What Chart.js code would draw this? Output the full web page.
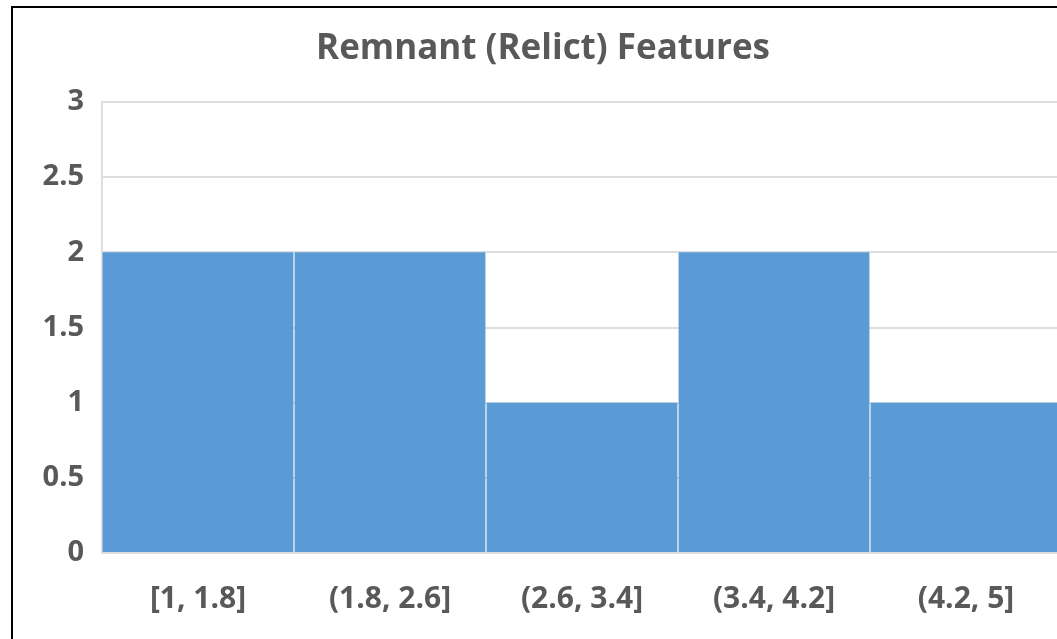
<!DOCTYPE html>
<html>
<head>
<meta charset="utf-8">
<script src="https://cdn.jsdelivr.net/npm/chart.js@4.4.0/dist/chart.umd.min.js"></script>
<style>
  html, body { margin: 0; padding: 0; background: #fff; overflow: hidden; }
  #wrap { position: relative; width: 1057px; height: 639px; overflow: hidden; }
  #chart { position: absolute; left: 0; top: 0; }
  #frame { position: absolute; left: 11px; top: 6px; width: 1100px; height: 700px;
           border: 2px solid #000; pointer-events: none; }
</style>
</head>
<body>
<div id="wrap">
  <canvas id="chart" width="1086" height="639"></canvas>
  <div id="frame"></div>
</div>
<script>
// Histogram bins and counts
const bins = ['[1, 1.8]', '(1.8, 2.6]', '(2.6, 3.4]', '(3.4, 4.2]', '(4.2, 5]'];
const counts = [2, 2, 1, 2, 1];
const yTicks = [0, 0.5, 1, 1.5, 2, 2.5, 3];

const grey = '#595959';
const fontFamily = '"Open Sans", sans-serif';

const ctx = document.getElementById('chart').getContext('2d');
const relictChart = new Chart(ctx, {
  type: 'bar',
  data: {
    labels: bins,
    datasets: [{
      label: 'Frequency',
      data: counts,
      backgroundColor: '#5b9bd5',
      borderWidth: 0,
      barPercentage: 0.994,
      categoryPercentage: 1
    }]
  },
  options: {
    responsive: false,
    animation: false,
    layout: { padding: 0 },
    plugins: {
      legend: { display: false },
      tooltip: { enabled: false },
      title: {
        display: true,
        text: 'Remnant (Relict) Features',
        color: grey,
        font: { family: fontFamily, size: 35, weight: 'bold' },
        padding: { top: 28, bottom: 32 }
      }
    },
    scales: {
      x: {
        grid: { display: false, drawTicks: false },
        border: { display: false },
        ticks: {
          color: grey,
          font: { family: fontFamily, size: 30, weight: 'bold' },
          padding: 28,
          maxRotation: 0
        },
        afterFit: (scale) => { scale.height = 86; }
      },
      y: {
        min: 0,
        max: 3,
        afterBuildTicks: (scale) => { scale.ticks = yTicks.map(v => ({ value: v })); },
        grid: { color: '#dedede', lineWidth: 2, drawTicks: false },
        border: { display: true, color: '#dedede', width: 2 },
        ticks: {
          color: grey,
          font: { family: fontFamily, size: 29, weight: 'bold' },
          padding: 18,
          callback: (v) => String(v)
        },
        afterFit: (scale) => { scale.width = 102; }
      },
      // empty right-hand margin so the title centres like the original
      yRight: {
        position: 'right',
        grid: { display: false, drawTicks: false },
        border: { display: false },
        ticks: { display: false },
        afterFit: (scale) => { scale.width = 24; }
      }
    }
  }
});
</script>
</body>
</html>
